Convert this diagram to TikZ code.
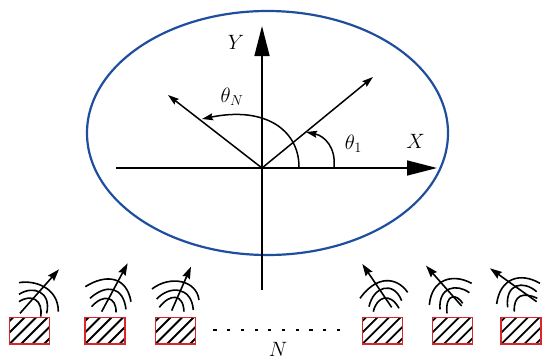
\documentclass[tikz,border=0pt]{standalone}
\usetikzlibrary{arrows.meta}
\definecolor{ellblue}{HTML}{1F4E9E}
\definecolor{boxred}{HTML}{D9262A}
\newcommand{\hatchbox}[3]{%
  \begin{scope}
    \clip (#1,317.5) rectangle (#2,344);
    \foreach \k in {-3,...,4} {\draw[hatchline] ({#1+\k*11.5},344) -- ({#1+\k*11.5+27},317);}
  \end{scope}
  \node[elementbox,minimum width=40pt,minimum height=26.5pt] (#3) at ({(#1+#2)/2},330.75) {};
}
\tikzset{
  axisline/.style={line width=1.5pt,black},
  bigtip/.style={-{Triangle[length=30pt,width=15pt]}},
  ray/.style={line width=1.5pt,-{Stealth[length=11pt,width=7pt,inset=1.5pt]}},
  anglearc/.style={line width=1.5pt,-{Stealth[length=11pt,width=7pt,inset=1.5pt]}},
  hatchline/.style={line width=1.8pt,black},
  elementbox/.style={draw=boxred,line width=1.6pt,inner sep=0pt,fill=none},
  wave/.style={line width=1.6pt,black},
  antenna/.style={line width=1.6pt,-{Stealth[length=12pt,width=8pt,inset=1.5pt]}},
  lab/.style={inner sep=0pt,font=\fontsize{22}{22}\selectfont},
  zooma/.style={shift={(0,250)},x=0.3333pt,y=-0.3333pt},
  zoomb/.style={shift={(340,250)},x=0.3333pt,y=-0.3333pt},
}
\begin{document}
\begin{tikzpicture}[x=1pt,y=-1pt]
\useasboundingbox (0,0) rectangle (542,359);
% aperture
\draw[ellblue,line width=2.2pt] (267.5,133) ellipse [x radius=180.5,y radius=122];
% axes
\coordinate (O) at (262,168);
\coordinate (xs) at (116,168);
\coordinate (xe) at (437,168);
\coordinate (ys) at (262,290);
\coordinate (ye) at (262,26);
\coordinate (r1) at (373,77);
\coordinate (rN) at (168,95);
\draw[axisline,bigtip] (xs) -- (xe);
\draw[axisline,bigtip] (ys) -- (ye);
\draw[ray] (O) -- (r1);
\draw[ray] (O) -- (rN);
\draw[anglearc] (334,167) .. controls (336,148) and (325,136) .. (306,132);
\draw[anglearc] (299,167) .. controls (299,130) and (265,106) .. (202,119);
\node[lab] (lY) at (236,42) {$Y$};
\node[lab] (lX) at (415.5,141) {$X$};
\node[lab] (lTN) at (232,97) {$\theta_N$};
\node[lab] (lT1) at (353.5,144) {$\theta_1$};
\node[lab] (lN) at (278,349.5) {$N$};
% elements
\hatchbox{9.5}{49.5}{e1}
\hatchbox{85}{125}{e2}
\hatchbox{155.5}{195.5}{e3}
\hatchbox{362.3}{402.3}{e4}
\hatchbox{432.3}{472.3}{e5}
\hatchbox{501.3}{540.7}{e6}
% antennas
\begin{scope}[zooma]
  \draw[antenna] (60,190) -- (177,58);
  \draw[wave] (57,98) .. controls (100,90) and (175,110) .. (175,185);
  \draw[wave] (57,133) .. controls (100,105) and (155,125) .. (140,190);
  \draw[wave] (57,155) .. controls (95,130) and (130,150) .. (122,200);
  \draw[antenna] (305,185) -- (383,40);
  \draw[wave] (256,110) .. controls (320,70) and (380,80) .. (393,155);
  \draw[wave] (270,145) .. controls (320,100) and (370,110) .. (378,178);
  \draw[wave] (275,170) .. controls (310,130) and (350,140) .. (348,187);
  \draw[antenna] (515,182) -- (573,50);
  \draw[wave] (456,117) .. controls (510,75) and (590,90) .. (597,150);
  \draw[wave] (470,147) .. controls (510,105) and (575,110) .. (580,180);
  \draw[wave] (478,172) .. controls (510,130) and (550,130) .. (552,185);
\end{scope}
\begin{scope}[zoomb]
  \draw[antenna] (155,172) -- (67,42);
  \draw[wave] (60,145) .. controls (110,75) and (170,80) .. (203,127);
  \draw[wave] (87,170) .. controls (100,110) and (160,90) .. (185,152);
  \draw[wave] (100,185) .. controls (110,140) and (150,125) .. (177,175);
  \draw[antenna] (365,168) -- (258,47);
  \draw[wave] (268,165) .. controls (275,85) and (340,70) .. (395,100);
  \draw[wave] (300,178) .. controls (295,110) and (350,100) .. (388,128);
  \draw[wave] (321,190) .. controls (315,130) and (350,130) .. (368,160);
  \draw[antenna] (590,155) -- (450,55);
  \draw[wave] (470,162) .. controls (480,85) and (540,65) .. (600,100);
  \draw[wave] (503,172) .. controls (495,100) and (550,90) .. (590,125);
  \draw[wave] (523,185) .. controls (520,135) and (550,125) .. (592,145);
\end{scope}
% dots
\foreach \i in {0,...,9} {\fill ({215+\i*13.7-1.6},328.8) rectangle ({215+\i*13.7+1.6},330.8);}
\end{tikzpicture}
\end{document}
